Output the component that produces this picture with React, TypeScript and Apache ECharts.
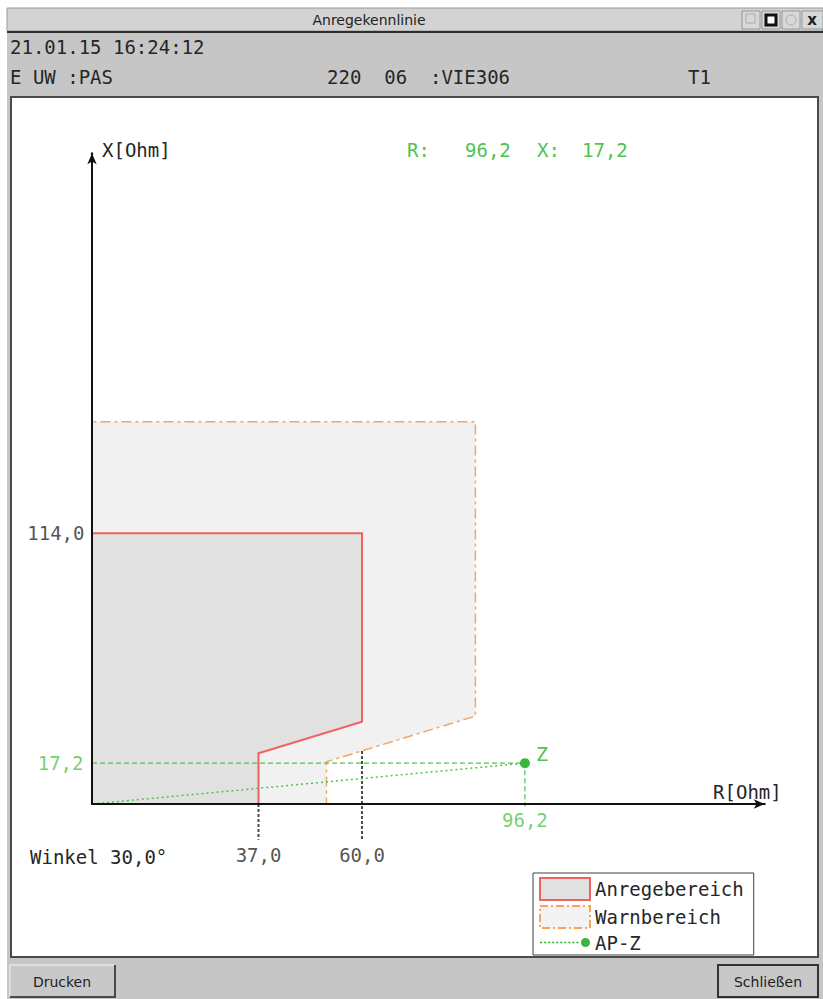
import React, { useEffect, useRef } from "react";
import * as echarts from "echarts";

// ---- data ----
const windowTitle = "Anregekennlinie";
const headerDate = "21.01.15 16:24:12";
const headerStation = "E UW :PAS";
const headerField = "220  06  :VIE306";
const headerT = "T1";
const buttonLabels = ["Drucken", "Schließen"];
const seriesNames = ["Anregebereich", "Warnbereich", "AP-Z"];

const anregeR = [0, 37.0, 37.0, 60.0, 60.0, 0];
const anregeX = [0, 0, 21.4, 34.6, 114.0, 114.0];
const warnR = [0, 52.1, 52.1, 85.2, 85.2, 0];
const warnX = [0, 0, 17.8, 37.0, 161.0, 161.0];
const apZ = [96.2, 17.2];
const rMarks = [37.0, 60.0];
const rMarkTop = [0, 22.3];
const rMarkBottom = -15;
const xMarks = [114.0];
const winkel = 30.0;

// ---- styles ----
const MONO = '"DejaVu Sans Mono", monospace';
const SANS = '"DejaVu Sans", sans-serif';
const GREEN = "#4fc34f";
const GREEN_DOT = "#3bb53b";
const RED = "#f06262";
const ORANGE = "#f5a55c";
const TEXT = "#262626";

const fmt = (v: number) => v.toFixed(1).replace(".", ",");

const AP_ICON =
  "path://" +
  [0, 4, 8, 12, 16, 20, 24, 28, 32, 36].map((x) => `M${x},9.25h2.2v1.5h-2.2z`).join("") +
  "M40.5,10a4.5,4.5 0 1,0 9,0a4.5,4.5 0 1,0 -9,0z";

function polySeries(name: string, rs: number[], xs: number[], fill: string, stroke: string, dash: number[] | null, width: number, z: number) {
  return {
    type: "custom",
    name,
    coordinateSystem: "cartesian2d",
    z,
    silent: true,
    data: [[rs[0], xs[0]]],
    itemStyle: { color: fill, borderColor: stroke },
    renderItem: (_p: any, api: any) => ({
      type: "polygon",
      shape: { points: rs.map((r, i) => api.coord([r, xs[i]])) },
      style: { fill, stroke, lineWidth: width, lineDash: dash || undefined },
    }),
  };
}

function monoText(text: string, x: number, y: number, fill = TEXT, align = "left", size = 19) {
  return {
    type: "text",
    x,
    y,
    z: 10,
    silent: true,
    style: { text, fill, fontFamily: MONO, fontSize: size, align, verticalAlign: "middle" },
  };
}

function buildOption() {
  const graphic: any[] = [
    // window body
    { type: "rect", z: -10, silent: true, shape: { x: 7, y: 8, width: 816, height: 991 }, style: { fill: "#c6c6c6" } },
    // title bar
    { type: "rect", z: -9, silent: true, shape: { x: 7, y: 8, width: 816, height: 23 }, style: { fill: "#d3d3d3", stroke: "#9a9a9a", lineWidth: 1 } },
    { type: "line", z: -8, silent: true, shape: { x1: 7, y1: 32, x2: 823, y2: 32 }, style: { stroke: "#2e2e2e", lineWidth: 2 } },
    { type: "text", z: 10, silent: true, x: 369, y: 20, style: { text: windowTitle, fill: "#222", fontFamily: SANS, fontSize: 14, align: "center", verticalAlign: "middle" } },
    // title bar buttons
    { type: "rect", z: -7, silent: true, shape: { x: 742, y: 11, width: 18, height: 18 }, style: { fill: "#d8d8d8", stroke: "#999", lineWidth: 1 } },
    { type: "rect", z: -6, silent: true, shape: { x: 746, y: 14, width: 9, height: 9 }, style: { fill: "none", stroke: "#aaa", lineWidth: 1 } },
    { type: "rect", z: -7, silent: true, shape: { x: 762, y: 11, width: 18, height: 18 }, style: { fill: "#d8d8d8", stroke: "#999", lineWidth: 1 } },
    { type: "rect", z: -6, silent: true, shape: { x: 766, y: 15, width: 10, height: 10 }, style: { fill: "#fff", stroke: "#111", lineWidth: 3 } },
    { type: "rect", z: -7, silent: true, shape: { x: 782, y: 11, width: 18, height: 18 }, style: { fill: "#d8d8d8", stroke: "#999", lineWidth: 1 } },
    { type: "circle", z: -6, silent: true, shape: { cx: 791, cy: 20, r: 5 }, style: { fill: "none", stroke: "#aaa", lineWidth: 1 } },
    { type: "rect", z: -7, silent: true, shape: { x: 802, y: 11, width: 21, height: 18 }, style: { fill: "#d8d8d8", stroke: "#999", lineWidth: 1 } },
    { type: "text", z: 10, silent: true, x: 812, y: 20, style: { text: "x", fill: "#222", fontFamily: SANS, fontSize: 15, fontWeight: "bold", align: "center", verticalAlign: "middle" } },
    // plot panel
    { type: "rect", z: -8, silent: true, shape: { x: 11, y: 97, width: 807, height: 860 }, style: { fill: "#ffffff", stroke: "#4a4a4a", lineWidth: 2 } },
    // buttons
    { type: "rect", z: -7, silent: true, shape: { x: 10, y: 965, width: 105, height: 32 }, style: { fill: "#c8c8c8", stroke: "#f2f2f2", lineWidth: 1 } },
    { type: "polyline", z: -6, silent: true, shape: { points: [[115, 965], [115, 997], [10, 997]] }, style: { stroke: "#4a4a4a", lineWidth: 2, fill: "none" } },
    { type: "text", z: 10, silent: true, x: 62, y: 982, style: { text: buttonLabels[0], fill: "#222", fontFamily: SANS, fontSize: 14, align: "center", verticalAlign: "middle" } },
    { type: "rect", z: -7, silent: true, shape: { x: 718, y: 965, width: 100, height: 32 }, style: { fill: "#c8c8c8", stroke: "#333", lineWidth: 2 } },
    { type: "text", z: 10, silent: true, x: 768, y: 982, style: { text: buttonLabels[1], fill: "#222", fontFamily: SANS, fontSize: 14, align: "center", verticalAlign: "middle" } },
    // header texts
    monoText(headerDate, 10, 47),
    monoText(headerStation, 10, 77),
    monoText(headerField, 327, 77),
    monoText(headerT, 688, 77),
    // readout
    monoText("R:", 407, 150, GREEN),
    monoText(fmt(apZ[0]), 465, 150, GREEN),
    monoText("X:", 537, 150, GREEN),
    monoText(fmt(apZ[1]), 582, 150, GREEN),
    // angle
    monoText(`Winkel ${fmt(winkel)}°`, 30, 857),
  ];

  const series: any[] = [
    polySeries(seriesNames[1], warnR, warnX, "#f1f1f1", ORANGE, [10, 4, 3, 4], 1.5, 1),
    polySeries(seriesNames[0], anregeR, anregeX, "#e1e1e1", RED, null, 2, 2),
    // black drop lines at R marks
    ...rMarks.map((r, i) => ({
      type: "line",
      silent: true,
      clip: false,
      z: 3,
      symbol: "none",
      data: [[r, rMarkTop[i]], [r, rMarkBottom]],
      lineStyle: { color: "#4a4a4a", width: 2, type: [3, 2] },
    })),
    // green dashed helper lines to AP
    {
      type: "line",
      silent: true,
      clip: false,
      z: 3,
      symbol: "none",
      data: [[0, apZ[1]], [apZ[0], apZ[1]], [apZ[0], -1]],
      lineStyle: { color: GREEN, width: 1.2, type: [5, 3] },
    },
    // AP-Z line (origin to Z)
    {
      type: "line",
      name: seriesNames[2],
      silent: true,
      clip: false,
      z: 4,
      data: [
        { value: [0, 0], symbol: "none" },
        {
          value: apZ,
          symbol: "circle",
          symbolSize: 10,
          label: {
            show: true,
            formatter: "Z",
            position: "right",
            distance: 6,
            offset: [0, -9],
            color: GREEN,
            fontFamily: MONO,
            fontSize: 20,
          },
        },
      ],
      itemStyle: { color: GREEN_DOT, borderWidth: 0 },
      lineStyle: { color: GREEN, width: 1.5, type: [2, 3] },
    },
    // black tick labels
    {
      type: "scatter",
      silent: true,
      clip: false,
      z: 6,
      symbolSize: 1,
      itemStyle: { color: "rgba(0,0,0,0)" },
      label: { show: true, formatter: (p: any) => p.data.text, color: TEXT, fontFamily: MONO, fontSize: 19 },
      data: [
        ...xMarks.map((v) => ({ value: [0, v], text: fmt(v), label: { position: "left", distance: 7 } })),
        ...rMarks.map((v) => ({ value: [v, rMarkBottom], text: fmt(v), label: { position: "bottom", distance: 5 } })),
      ],
    },
    // green tick labels
    {
      type: "scatter",
      silent: true,
      clip: false,
      z: 6,
      symbolSize: 1,
      itemStyle: { color: "rgba(0,0,0,0)" },
      label: { show: true, formatter: (p: any) => p.data.text, color: GREEN, fontFamily: MONO, fontSize: 19 },
      data: [
        { value: [0, apZ[1]], text: fmt(apZ[1]), label: { position: "left", distance: 8 } },
        { value: [apZ[0], 0], text: fmt(apZ[0]), label: { position: "bottom", distance: 6 } },
      ],
    },
  ];

  const axisCommon = {
    type: "value",
    min: 0,
    z: 8,
    axisTick: { show: false },
    axisLabel: { show: false },
    splitLine: { show: false },
  };

  return {
    animation: false,
    backgroundColor: "#ffffff",
    textStyle: { fontFamily: MONO },
    grid: { left: 92, top: 153.25, width: 672.75, height: 650.75, containLabel: false },
    xAxis: {
      ...axisCommon,
      max: 149.5,
      axisLine: { onZero: false, lineStyle: { color: "#111", width: 2 }, symbol: ["none", "arrow"], symbolSize: [7, 11] },
      name: "R[Ohm]",
      nameLocation: "end",
      nameGap: 17,
      nameTextStyle: { fontFamily: MONO, fontSize: 19, color: TEXT, align: "right", verticalAlign: "bottom", padding: [0, 0, 3, 0] },
    },
    yAxis: {
      ...axisCommon,
      max: 274,
      axisLine: { onZero: false, lineStyle: { color: "#111", width: 2 }, symbol: ["none", "arrow"], symbolSize: [7, 11] },
      name: "X[Ohm]",
      nameLocation: "end",
      nameGap: 3,
      nameTextStyle: { fontFamily: MONO, fontSize: 19, color: TEXT, align: "left", verticalAlign: "middle", padding: [0, 0, 0, 10] },
    },
    legend: {
      orient: "vertical",
      left: 533,
      top: 873,
      padding: [4, 10, 3, 6],
      itemGap: 4,
      itemWidth: 50,
      itemHeight: 22,
      backgroundColor: "#ffffff",
      borderColor: "#404040",
      borderWidth: 1,
      borderRadius: 0,
      selectedMode: false,
      textStyle: { fontFamily: MONO, fontSize: 19, color: TEXT },
      data: [
        { name: seriesNames[0], icon: "rect", itemStyle: { color: "#e1e1e1", borderColor: RED, borderWidth: 2 } },
        { name: seriesNames[1], icon: "rect", itemStyle: { color: "#f2f2f2", borderColor: ORANGE, borderWidth: 2, borderType: [8, 3, 2, 3] } },
        { name: seriesNames[2], icon: AP_ICON, itemStyle: { color: GREEN_DOT, borderWidth: 0 } },
      ],
    },
    graphic,
    series,
  };
}

export default function App() {
  const ref = useRef<HTMLDivElement>(null);
  useEffect(() => {
    if (!ref.current) return;
    const chart = echarts.init(ref.current, undefined, { renderer: "svg" });
    chart.setOption(buildOption() as any);
    return () => chart.dispose();
  }, []);
  return <div ref={ref} style={{ position: "fixed", left: 0, top: 0, width: 823, height: 999 }} />;
}
